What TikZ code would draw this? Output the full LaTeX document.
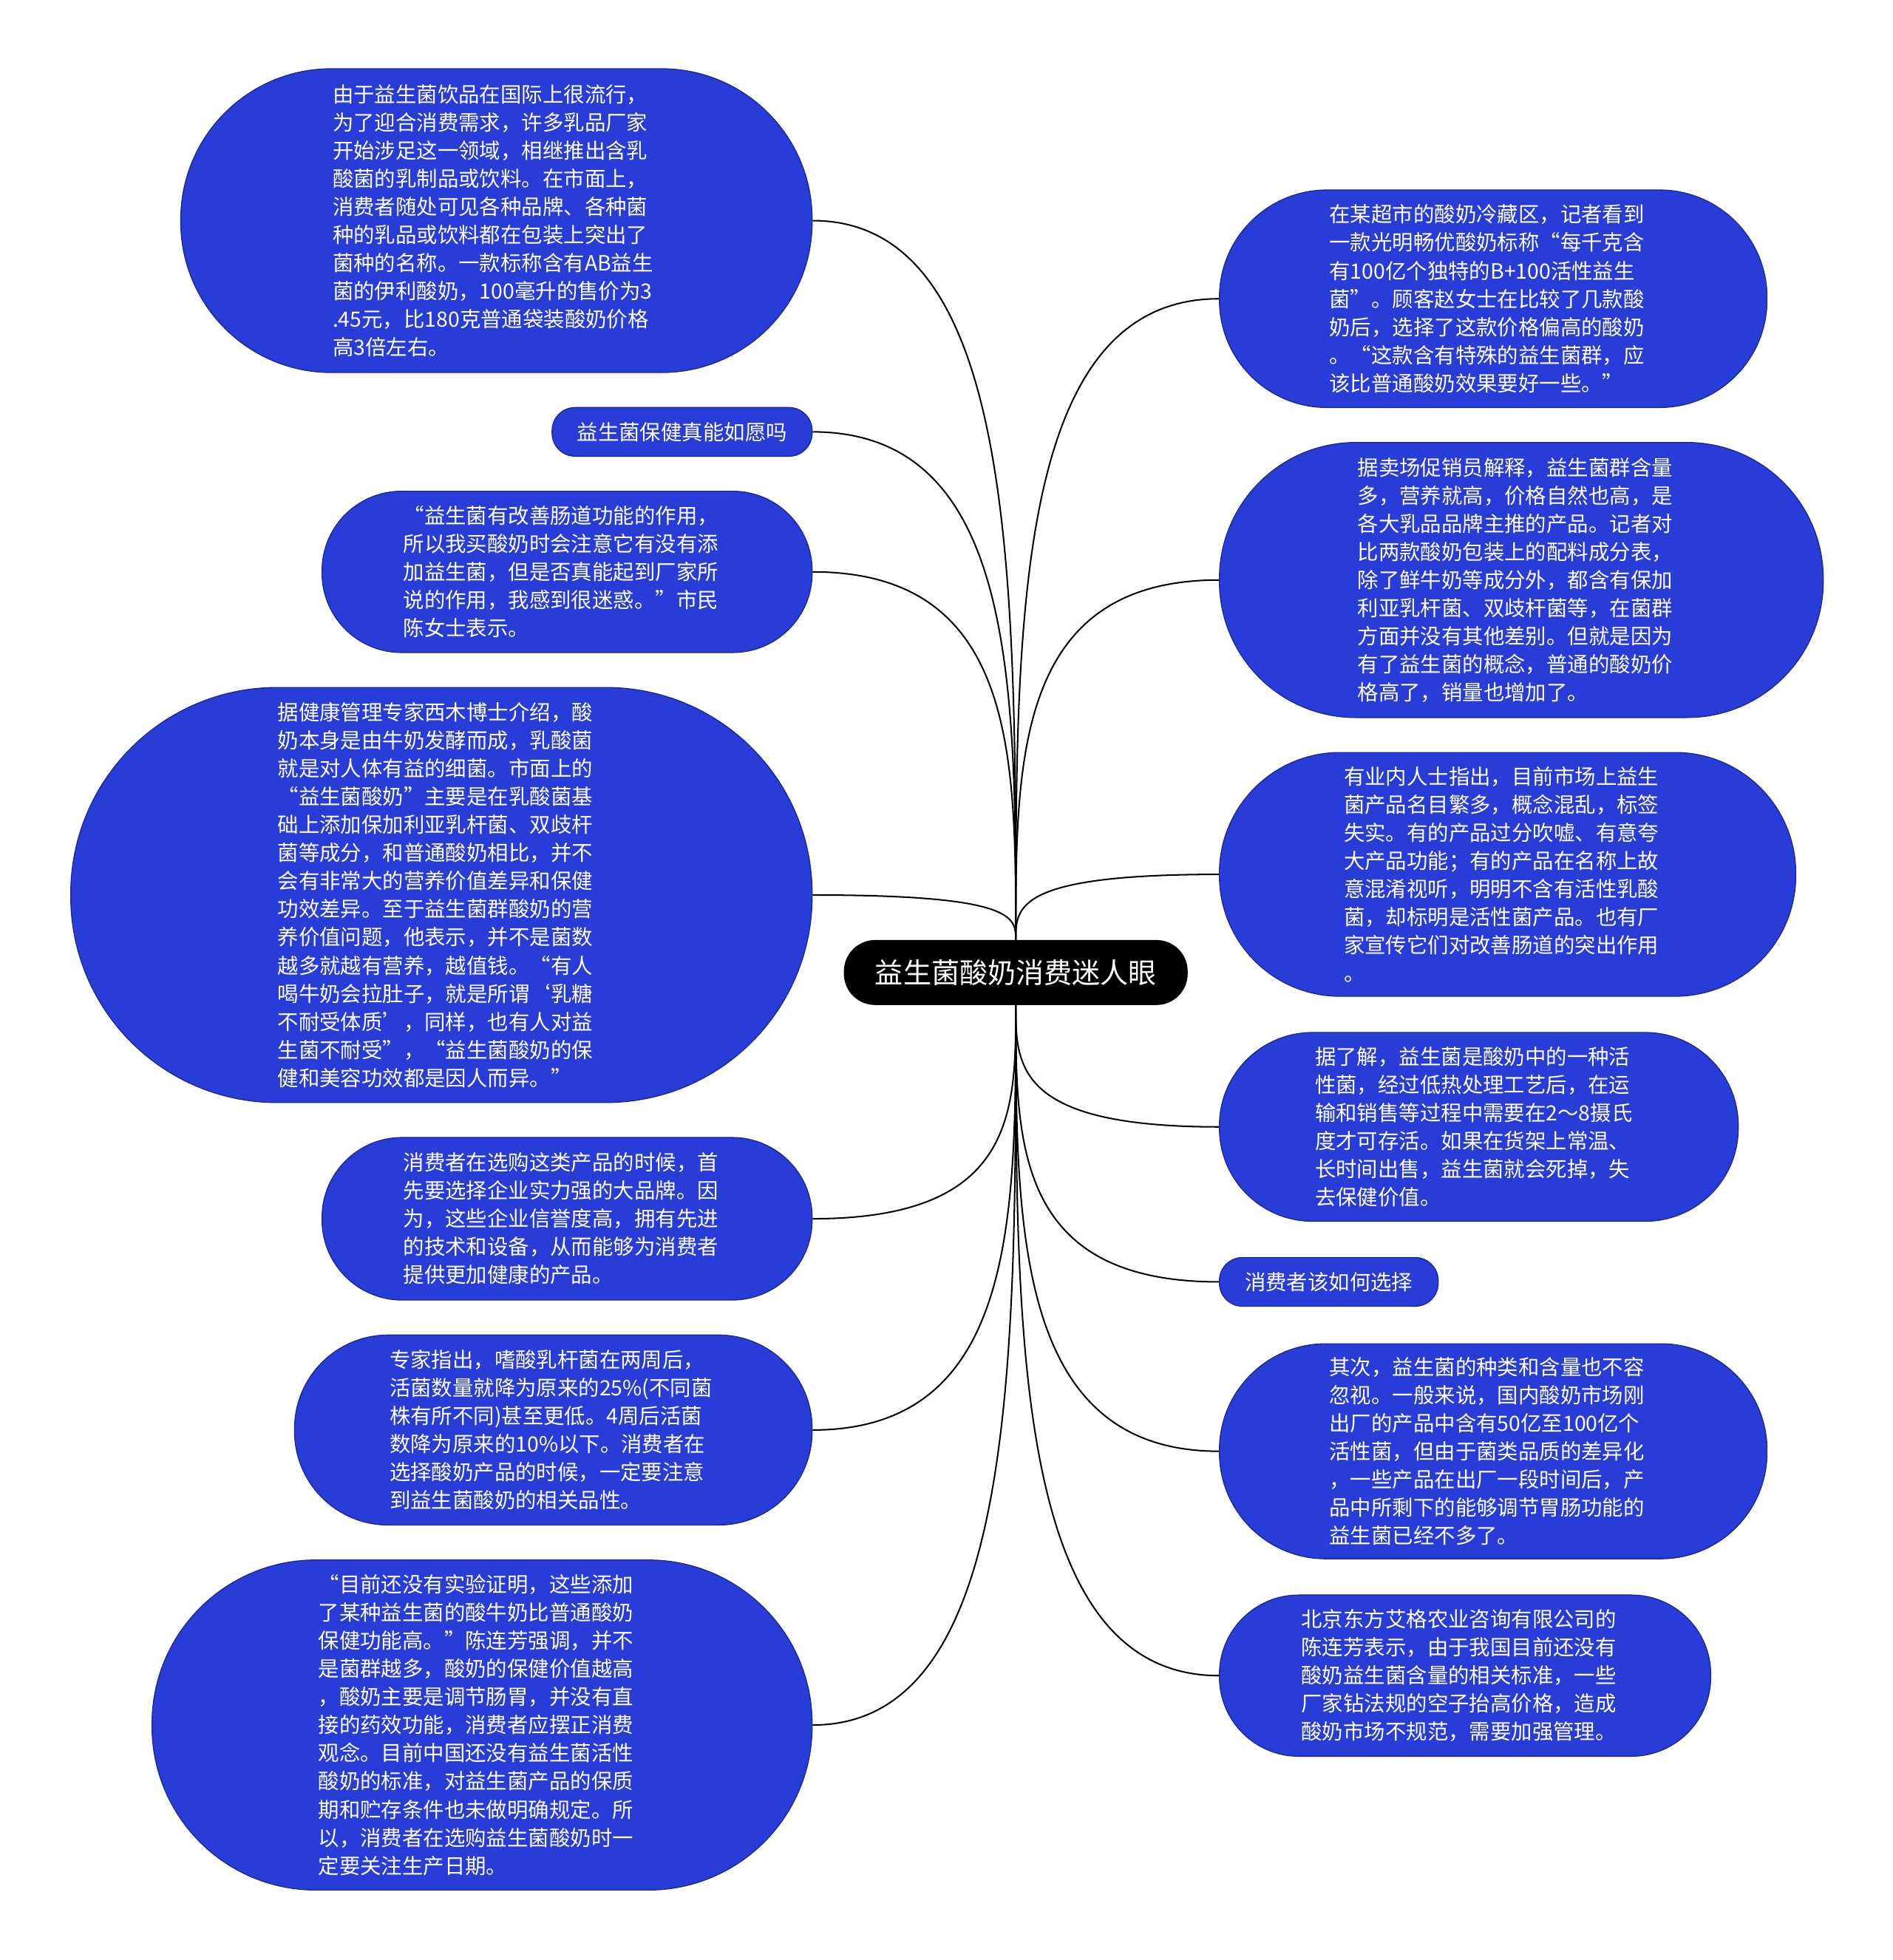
\documentclass[tikz,border=0pt]{standalone}
\usepackage{fontspec}
\usetikzlibrary{calc}
\setmainfont{Noto Sans CJK SC}
\definecolor{leafblue}{RGB}{40,60,215}
\definecolor{leafline}{RGB}{28,40,150}
\begin{document}
\begin{tikzpicture}[x=1pt, y=-1pt,
    pill/.style 2 args={draw=leafline, line width=0.8pt, fill=leafblue, text=white,
      align=left, inner sep=0pt, minimum width=#1, minimum height=#2,
      rounded corners=#2/2-1pt, font=\fontsize{16.8}{22.5}\selectfont},
    leaf/.style 2 args={pill={#1}{#2}, text width=262pt},
    hub/.style={fill=black, text=white, inner sep=0pt, minimum width=275pt,
      minimum height=52pt, rounded corners=25pt, font=\fontsize{22.5}{27}\selectfont},
    link/.style={draw=black, line width=1.2pt,
      to path={.. controls ($(\tikztostart)!0.5!(\tikztostart |- \tikztotarget)$)
        and (\tikztostart |- \tikztotarget) .. (\tikztotarget)}}]
  \useasboundingbox (0,0) rectangle (1514,1568);
  \node[hub] (r) at (812.5,778) {益生菌酸奶消费迷人眼};
  \node[leaf={505pt}{243pt}, anchor=east] (l1) at (650,176.5) {由于益生菌饮品在国际上很流行，\\为了迎合消费需求，许多乳品厂家\\开始涉足这一领域，相继推出含乳\\酸菌的乳制品或饮料。在市面上，\\消费者随处可见各种品牌、各种菌\\种的乳品或饮料都在包装上突出了\\菌种的名称。一款标称含有AB益生\\菌的伊利酸奶，100毫升的售价为3\\.45元，比180克普通袋装酸奶价格\\高3倍左右。};
  \node[pill={208pt}{39pt}, anchor=east] (l2) at (650,345.5) {益生菌保健真能如愿吗};
  \node[leaf={392pt}{129pt}, anchor=east] (l3) at (650,457.5) {“益生菌有改善肠道功能的作用，\\所以我买酸奶时会注意它有没有添\\加益生菌，但是否真能起到厂家所\\说的作用，我感到很迷惑。”市民\\陈女士表示。};
  \node[leaf={593pt}{332pt}, anchor=east] (l4) at (650,716) {据健康管理专家西木博士介绍，酸\\奶本身是由牛奶发酵而成，乳酸菌\\就是对人体有益的细菌。市面上的\\“益生菌酸奶”主要是在乳酸菌基\\础上添加保加利亚乳杆菌、双歧杆\\菌等成分，和普通酸奶相比，并不\\会有非常大的营养价值差异和保健\\功效差异。至于益生菌群酸奶的营\\养价值问题，他表示，并不是菌数\\越多就越有营养，越值钱。“有人\\喝牛奶会拉肚子，就是所谓‘乳糖\\不耐受体质’，同样，也有人对益\\生菌不耐受”，“益生菌酸奶的保\\健和美容功效都是因人而异。”};
  \node[leaf={392pt}{130pt}, anchor=east] (l5) at (650,975) {消费者在选购这类产品的时候，首\\先要选择企业实力强的大品牌。因\\为，这些企业信誉度高，拥有先进\\的技术和设备，从而能够为消费者\\提供更加健康的产品。};
  \node[leaf={414pt}{152pt}, anchor=east] (l6) at (650,1144) {专家指出，嗜酸乳杆菌在两周后，\\活菌数量就降为原来的25\%(不同菌\\株有所不同)甚至更低。4周后活菌\\数降为原来的10\%以下。消费者在\\选择酸奶产品的时候，一定要注意\\到益生菌酸奶的相关品性。};
  \node[leaf={528pt}{264pt}, anchor=east] (l7) at (650,1380) {“目前还没有实验证明，这些添加\\了某种益生菌的酸牛奶比普通酸奶\\保健功能高。”陈连芳强调，并不\\是菌群越多，酸奶的保健价值越高\\，酸奶主要是调节肠胃，并没有直\\接的药效功能，消费者应摆正消费\\观念。目前中国还没有益生菌活性\\酸奶的标准，对益生菌产品的保质\\期和贮存条件也未做明确规定。所\\以，消费者在选购益生菌酸奶时一\\定要关注生产日期。};
  \node[leaf={438pt}{174pt}, anchor=west] (r1) at (975,239) {在某超市的酸奶冷藏区，记者看到\\一款光明畅优酸奶标称“每千克含\\有100亿个独特的B+100活性益生\\菌”。顾客赵女士在比较了几款酸\\奶后，选择了这款价格偏高的酸奶\\。“这款含有特殊的益生菌群，应\\该比普通酸奶效果要好一些。”};
  \node[leaf={483pt}{220pt}, anchor=west] (r2) at (975,464) {据卖场促销员解释，益生菌群含量\\多，营养就高，价格自然也高，是\\各大乳品品牌主推的产品。记者对\\比两款酸奶包装上的配料成分表，\\除了鲜牛奶等成分外，都含有保加\\利亚乳杆菌、双歧杆菌等，在菌群\\方面并没有其他差别。但就是因为\\有了益生菌的概念，普通的酸奶价\\格高了，销量也增加了。};
  \node[leaf={461pt}{195pt}, anchor=west] (r3) at (975,699.5) {有业内人士指出，目前市场上益生\\菌产品名目繁多，概念混乱，标签\\失实。有的产品过分吹嘘、有意夸\\大产品功能；有的产品在名称上故\\意混淆视听，明明不含有活性乳酸\\菌，却标明是活性菌产品。也有厂\\家宣传它们对改善肠道的突出作用\\。};
  \node[leaf={415pt}{151pt}, anchor=west] (r4) at (975,901.5) {据了解，益生菌是酸奶中的一种活\\性菌，经过低热处理工艺后，在运\\输和销售等过程中需要在2～8摄氏\\度才可存活。如果在货架上常温、\\长时间出售，益生菌就会死掉，失\\去保健价值。};
  \node[pill={175pt}{39pt}, anchor=west] (r5) at (975,1025.5) {消费者该如何选择};
  \node[leaf={438pt}{172pt}, anchor=west] (r6) at (975,1161) {其次，益生菌的种类和含量也不容\\忽视。一般来说，国内酸奶市场刚\\出厂的产品中含有50亿至100亿个\\活性菌，但由于菌类品质的差异化\\，一些产品在出厂一段时间后，产\\品中所剩下的能够调节胃肠功能的\\益生菌已经不多了。};
  \node[leaf={393pt}{129pt}, anchor=west] (r7) at (975,1340.5) {北京东方艾格农业咨询有限公司的\\陈连芳表示，由于我国目前还没有\\酸奶益生菌含量的相关标准，一些\\厂家钻法规的空子抬高价格，造成\\酸奶市场不规范，需要加强管理。};
  \draw[link] (r.north) to (l1.east);
  \draw[link] (r.north) to (l2.east);
  \draw[link] (r.north) to (l3.east);
  \draw[link] (r.north) to (l4.east);
  \draw[link] (r.south) to (l5.east);
  \draw[link] (r.south) to (l6.east);
  \draw[link] (r.south) to (l7.east);
  \draw[link] (r.north) to (r1.west);
  \draw[link] (r.north) to (r2.west);
  \draw[link] (r.north) to (r3.west);
  \draw[link] (r.south) to (r4.west);
  \draw[link] (r.south) to (r5.west);
  \draw[link] (r.south) to (r6.west);
  \draw[link] (r.south) to (r7.west);
\end{tikzpicture}
\end{document}
